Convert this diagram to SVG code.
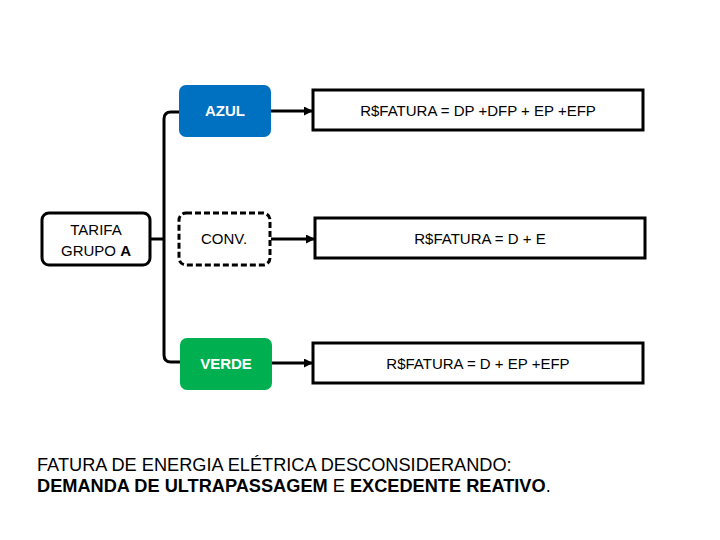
<svg xmlns="http://www.w3.org/2000/svg" width="720" height="540" viewBox="0 0 720 540">
<defs>
<style>
.t{font-family:"Liberation Sans",Arial,sans-serif;font-size:15px;fill:#000;text-anchor:middle}
.w{fill:#fff;font-weight:bold}
.box{fill:#fff;stroke:#000;stroke-width:3}
.ln{fill:none;stroke:#000;stroke-width:3}
.cap{font-family:"Liberation Sans",Arial,sans-serif;font-size:18.2px;fill:#000}
</style>
<marker id="ar" markerWidth="9" markerHeight="9" refX="8" refY="4.5" orient="auto" markerUnits="userSpaceOnUse">
<path d="M0,0 L9,4.5 L0,9 Z" fill="#000"/>
</marker>
</defs>
<rect width="720" height="540" fill="#fff"/>
<g id="connectors">
<path class="ln" d="M150,239 H164"/>
<path class="ln" d="M180,112 H171 Q164,112 164,119 V355 Q164,362 171,362 H180"/>
<path class="ln" d="M271,111 H312" marker-end="url(#ar)"/>
<path class="ln" d="M271,239 H314" marker-end="url(#ar)"/>
<path class="ln" d="M272,363 H312" marker-end="url(#ar)"/>
</g>
<g id="tarifa">
<rect x="42" y="213" width="108" height="52" rx="7" class="box" stroke-width="2.5"/>
<text class="t" x="96" y="235">TARIFA</text>
<text class="t" x="96" y="256">GRUPO <tspan font-weight="bold">A</tspan></text>
</g>
<g id="azul">
<rect x="179" y="85" width="92" height="52" rx="7" fill="#0070C0"/>
<text class="t w" x="225" y="116">AZUL</text>
</g>
<g id="conv">
<rect x="179" y="213" width="91" height="52" rx="7" fill="#fff" stroke="#000" stroke-width="3" stroke-dasharray="6,3"/>
<text class="t" x="224" y="244">CONV.</text>
</g>
<g id="verde">
<rect x="180" y="338" width="92" height="52" rx="7" fill="#00B050"/>
<text class="t w" x="226" y="369">VERDE</text>
</g>
<g id="f-azul">
<rect x="313" y="90" width="330" height="40" class="box"/>
<text class="t" x="478" y="116">R$FATURA = DP +DFP + EP +EFP</text>
</g>
<g id="f-conv">
<rect x="315" y="218" width="330" height="40" class="box"/>
<text class="t" x="480" y="244">R$FATURA = D + E</text>
</g>
<g id="f-verde">
<rect x="313" y="343" width="330" height="40" class="box"/>
<text class="t" x="478" y="369">R$FATURA = D + EP +EFP</text>
</g>
<g id="caption">
<text class="cap" x="37" y="471">FATURA DE ENERGIA ELÉTRICA DESCONSIDERANDO:</text>
<text class="cap" x="37" y="492"><tspan font-weight="bold">DEMANDA DE ULTRAPASSAGEM</tspan> E <tspan font-weight="bold">EXCEDENTE REATIVO</tspan>.</text>
</g>
</svg>
